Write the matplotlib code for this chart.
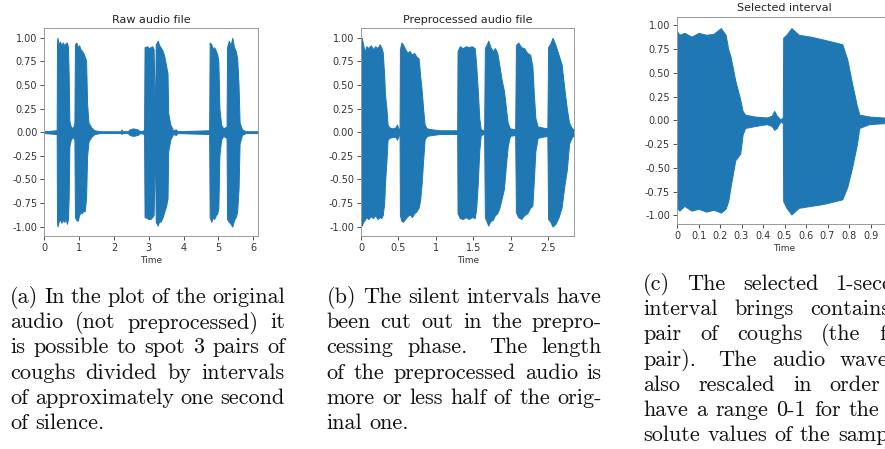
import matplotlib
matplotlib.use("Agg")

import numpy as np
import matplotlib.pyplot as plt

# Waveform envelopes: (time in s, upper amplitude, lower amplitude)
raw_env = [
    (0.00, 0.01, -0.01), (0.355, 0.02, -0.02), (0.365, 0.96, -0.95), (0.38, 1.00, -1.00),
    (0.41, 0.93, -0.95), (0.45, 0.96, -0.92), (0.49, 0.92, -0.96), (0.53, 0.95, -0.93),
    (0.57, 0.92, -0.95), (0.61, 0.94, -0.92), (0.65, 0.95, -0.97), (0.68, 0.90, -0.92),
    (0.70, 0.60, -0.70), (0.72, 0.12, -0.15), (0.76, 0.06, -0.08), (0.82, 0.04, -0.05),
    (0.865, 0.10, -0.08), (0.88, 0.93, -0.90), (0.92, 0.95, -0.93), (0.96, 0.90, -0.94),
    (1.00, 0.92, -0.88), (1.04, 0.88, -0.85), (1.08, 0.86, -0.86), (1.12, 0.84, -0.83),
    (1.16, 0.80, -0.84), (1.20, 0.76, -0.70), (1.23, 0.30, -0.25), (1.27, 0.10, -0.10),
    (1.35, 0.05, -0.05), (1.44, 0.02, -0.02), (1.60, 0.01, -0.01), (2.20, 0.01, -0.01),
    (2.22, 0.03, -0.02), (2.24, 0.01, -0.01), (2.40, 0.01, -0.01), (2.45, 0.03, -0.03),
    (2.55, 0.04, -0.04), (2.68, 0.03, -0.03), (2.75, 0.01, -0.01), (2.865, 0.02, -0.02),
    (2.88, 0.90, -0.90), (2.95, 0.91, -0.91), (3.00, 0.89, -0.92), (3.05, 0.90, -0.92),
    (3.10, 0.91, -0.90), (3.14, 0.88, -0.88), (3.165, 0.40, -0.40), (3.185, 0.30, -0.30),
    (3.20, 0.93, -0.95), (3.26, 0.97, -0.99), (3.30, 0.92, -0.94), (3.34, 0.90, -0.95),
    (3.40, 0.86, -0.90), (3.45, 0.80, -0.84), (3.50, 0.70, -0.78), (3.54, 0.62, -0.70),
    (3.56, 0.20, -0.20), (3.62, 0.08, -0.08), (3.70, 0.02, -0.02), (3.78, 0.03, -0.03),
    (3.82, 0.01, -0.01), (4.735, 0.02, -0.02), (4.75, 0.95, -0.90), (4.80, 0.93, -0.95),
    (4.84, 0.88, -0.90), (4.88, 0.90, -0.92), (4.93, 0.86, -0.88), (4.97, 0.82, -0.86),
    (5.00, 0.75, -0.80), (5.03, 0.25, -0.25), (5.08, 0.08, -0.08), (5.14, 0.04, -0.04),
    (5.235, 0.06, -0.06), (5.25, 0.90, -0.92), (5.30, 0.97, -0.95), (5.35, 0.92, -0.97),
    (5.40, 1.00, -1.00), (5.45, 0.90, -0.93), (5.50, 0.86, -0.90), (5.54, 0.78, -0.84),
    (5.58, 0.50, -0.60), (5.61, 0.10, -0.12), (5.68, 0.03, -0.03), (5.78, 0.01, -0.01),
    (6.13, 0.01, -0.01),
]

pre_env = [
    (0.00, 0.97, -0.90), (0.01, 1.00, -0.99), (0.03, 0.92, -0.95), (0.05, 0.85, -0.93),
    (0.07, 0.91, -0.90), (0.10, 0.89, -0.92), (0.13, 0.92, -0.89), (0.16, 0.88, -0.91),
    (0.19, 0.91, -0.88), (0.22, 0.89, -0.92), (0.25, 0.93, -0.90), (0.27, 0.90, -0.91),
    (0.29, 0.85, -0.88), (0.31, 0.60, -0.75), (0.32, 0.40, -0.55), (0.34, 0.25, -0.30),
    (0.355, 0.08, -0.08), (0.38, 0.05, -0.06), (0.42, 0.04, -0.05), (0.46, 0.05, -0.05),
    (0.48, 0.08, -0.08), (0.50, 0.04, -0.04), (0.515, 0.02, -0.02),
    (0.52, 0.88, -0.88), (0.54, 0.95, -0.94), (0.56, 0.93, -0.95), (0.59, 0.88, -0.92),
    (0.62, 0.84, -0.89), (0.65, 0.86, -0.87), (0.68, 0.82, -0.90), (0.71, 0.84, -0.86),
    (0.74, 0.80, -0.84), (0.77, 0.78, -0.80), (0.79, 0.60, -0.72), (0.81, 0.45, -0.55),
    (0.83, 0.25, -0.30), (0.85, 0.08, -0.08), (0.88, 0.04, -0.04), (0.95, 0.03, -0.03),
    (1.05, 0.02, -0.02), (1.15, 0.02, -0.02), (1.25, 0.02, -0.02), (1.285, 0.02, -0.02),
    (1.29, 0.86, -0.86), (1.32, 0.91, -0.91), (1.36, 0.89, -0.92), (1.40, 0.91, -0.90),
    (1.44, 0.90, -0.92), (1.48, 0.91, -0.90), (1.52, 0.89, -0.91), (1.54, 0.70, -0.80),
    (1.56, 0.45, -0.55), (1.58, 0.15, -0.20), (1.60, 0.03, -0.03), (1.645, 0.02, -0.02),
    (1.655, 0.89, -0.90), (1.68, 0.93, -0.95), (1.70, 0.97, -0.99), (1.73, 0.90, -0.94),
    (1.76, 0.86, -0.93), (1.79, 0.89, -0.88), (1.82, 0.84, -0.86), (1.85, 0.70, -0.80),
    (1.88, 0.55, -0.70), (1.91, 0.44, -0.60), (1.93, 0.30, -0.41), (1.96, 0.10, -0.15),
    (1.99, 0.04, -0.04), (2.06, 0.03, -0.03),
    (2.07, 0.92, -0.85), (2.10, 0.95, -0.90), (2.14, 0.90, -0.92), (2.18, 0.89, -0.88),
    (2.22, 0.84, -0.86), (2.26, 0.82, -0.80), (2.29, 0.70, -0.78), (2.31, 0.40, -0.50),
    (2.33, 0.15, -0.20), (2.36, 0.06, -0.06), (2.42, 0.05, -0.05), (2.49, 0.04, -0.04),
    (2.50, 0.90, -0.92), (2.53, 0.94, -0.95), (2.56, 1.00, -1.00), (2.60, 0.92, -0.97),
    (2.64, 0.82, -0.90), (2.68, 0.72, -0.80), (2.72, 0.44, -0.55), (2.75, 0.25, -0.40),
    (2.78, 0.10, -0.12), (2.82, 0.04, -0.05), (2.85, 0.03, -0.03),
]

sel_env = [
    (0.000, 0.94, -0.92), (0.011, 0.90, -0.95), (0.034, 0.92, -0.90), (0.068, 0.88, -0.95),
    (0.10, 0.92, -0.93), (0.136, 0.90, -0.96), (0.17, 0.91, -0.94), (0.204, 0.97, -0.97),
    (0.226, 0.90, -0.93), (0.238, 0.75, -0.85), (0.249, 0.67, -0.70), (0.271, 0.42, -0.42),
    (0.294, 0.22, -0.35), (0.305, 0.10, -0.15), (0.317, 0.06, -0.08), (0.362, 0.04, -0.06),
    (0.418, 0.03, -0.04), (0.441, 0.05, -0.06), (0.452, 0.10, -0.10), (0.464, 0.05, -0.08),
    (0.481, 0.01, -0.01), (0.492, 0.03, -0.03), (0.494, 0.87, -0.85), (0.509, 0.90, -0.92),
    (0.532, 0.97, -0.99), (0.566, 0.90, -0.92), (0.622, 0.88, -0.90), (0.679, 0.85, -0.88),
    (0.735, 0.82, -0.85), (0.769, 0.80, -0.83), (0.792, 0.64, -0.70), (0.814, 0.39, -0.50),
    (0.837, 0.15, -0.25), (0.848, 0.06, -0.08), (0.894, 0.04, -0.04), (0.961, 0.03, -0.03),
    (1.00, 0.02, -0.02),
]

titles = ["Raw audio file", "Preprocessed audio file", "Selected interval"]
xticks = [[0, 1, 2, 3, 4, 5, 6],
          [0, 0.5, 1, 1.5, 2, 2.5],
          [0, 0.1, 0.2, 0.3, 0.4, 0.5, 0.6, 0.7, 0.8, 0.9, 1.0]]
xticklabels = [["0", "1", "2", "3", "4", "5", "6"],
               ["0", "0.5", "1", "1.5", "2", "2.5"],
               ["0", "0.1", "0.2", "0.3", "0.4", "0.5", "0.6", "0.7", "0.8", "0.9", "1"]]
yticks = [-1.0, -0.75, -0.5, -0.25, 0.0, 0.25, 0.5, 0.75, 1.0]

captions = [
    ["(a) In the plot of the original",
     "audio (not preprocessed) it",
     "is possible to spot 3 pairs of",
     "coughs divided by intervals",
     "of approximately one second",
     "of silence."],
    ["(b) The silent intervals have",
     "been cut out in the prepro-",
     "cessing phase. The length",
     "of the preprocessed audio is",
     "more or less half of the orig-",
     "inal one."],
    ["(c) The selected 1-second",
     "interval brings contains a",
     "pair of coughs (the first",
     "pair). The audio wave is",
     "also rescaled in order to",
     "have a range 0-1 for the ab-",
     "solute values of the samples."],
]

W, H = 885, 449
fig = plt.figure(figsize=(W / 100, H / 100), dpi=100)

# axes boxes in pixels: left, top, width, height
boxes = [(44.3, 28.3, 213.4, 207.7), (361, 28.3, 213.3, 207.7), (677, 16.7, 215, 207.3)]
envs = [raw_env, pre_env, sel_env]

for i, ((l, t, w, h), env) in enumerate(zip(boxes, envs)):
    tt, up, lo = zip(*env)
    ax = fig.add_axes([l / W, 1 - (t + h) / H, w / W, h / H])
    ax.fill_between(tt, lo, up, color="#1f77b4", linewidth=0.7, edgecolor="#1f77b4")
    ax.set_xlim(tt[0], tt[-1])
    lim = 1.1 if i < 2 else 1.09
    ax.set_ylim(-lim, lim)
    ax.set_xticks(xticks[i])
    ax.set_xticklabels(xticklabels[i])
    ax.set_yticks(yticks)
    ax.set_yticklabels(["%.2f" % v for v in yticks])
    ax.tick_params(labelsize=7, length=3, width=0.6, pad=2, colors="#333333")
    for s in ax.spines.values():
        s.set_color("#999999")
        s.set_linewidth(0.7)
    ax.set_title(titles[i], fontsize=8, pad=4, color="#222222")
    ax.set_xlabel("Time", fontsize=6.5, labelpad=2, color="#333333")

# justified captions set in Computer Modern
fs = 16
renderer = fig.canvas.get_renderer()
cap_x = [10, 326.7, 643.3]
cap_y = [298, 298, 285]
line_w = 275
step = 25.2
space = fs * 100 / 72 * 0.333

for c, lines in enumerate(captions):
    for k, line in enumerate(lines):
        words = line.split(" ")
        y = 1 - (cap_y[c] + k * step + 5) / H
        objs = [fig.text(0, y, wd, family="cmr10", fontsize=fs, va="baseline", color="#111111")
                for wd in words]
        widths = [o.get_window_extent(renderer).width for o in objs]
        last = k == len(lines) - 1
        weights = [1.5 if words[j].endswith(".") else 1.0 for j in range(len(words) - 1)]
        if last or len(words) == 1:
            gaps = [space * wt for wt in weights]
        else:
            extra = line_w - sum(widths)
            gaps = [extra * wt / sum(weights) for wt in weights]
        x = cap_x[c]
        for j, o in enumerate(objs):
            o.set_x(x / W)
            if j < len(gaps):
                x += widths[j] + gaps[j]

fig.savefig("out.png", dpi=100)
